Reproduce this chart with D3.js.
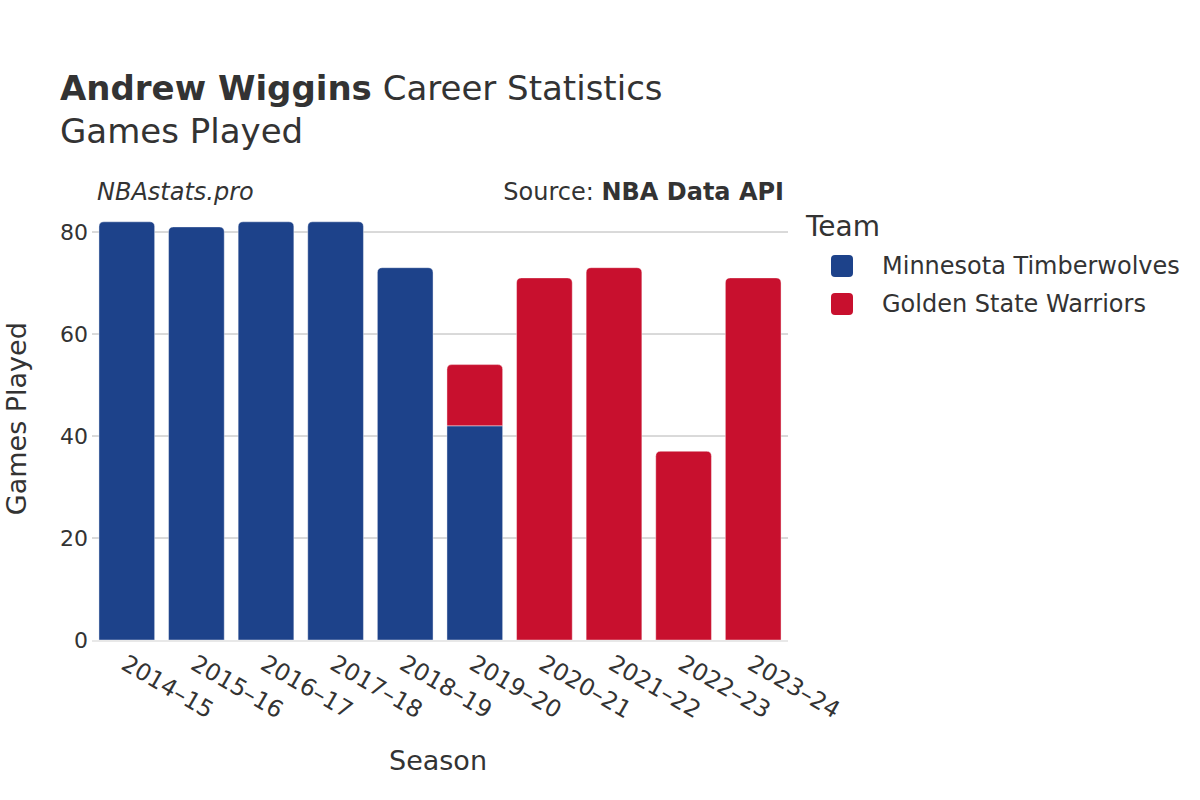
<!DOCTYPE html>
<html><head><meta charset="utf-8">
<script src="https://cdn.jsdelivr.net/npm/d3@7"></script>
<style>body{margin:0;background:#fff;} text{font-family:"DejaVu Sans",sans-serif;fill:#333;}</style>
</head><body><svg id="c" width="1200" height="800"></svg>
<script>
const seasons = ["2014–15","2015–16","2016–17","2017–18","2018–19","2019–20","2020–21","2021–22","2022–23","2023–24"];
const teams = ["Minnesota Timberwolves","Golden State Warriors"];
const teamColors = ["#1d428a","#c8102e"];
const minGames = [82,81,82,82,73,42,0,0,0,0];
const gswGames = [0,0,0,0,0,12,71,73,37,71];
const yTicks = [0,20,40,60,80];

const svg = d3.select("#c");
const m = {l:92, r:412, t:201.4, b:160};
const W = 1200, H = 800;
const x = d3.scaleBand().domain(seasons).range([m.l, W-m.r]).paddingInner(0.2).paddingOuter(0.1);
const y = d3.scaleLinear().domain([0, 86]).range([H-m.b, m.t]);

// gridlines
svg.append("g").selectAll("line").data(yTicks.filter(d=>d>0)).join("line")
  .attr("x1", m.l).attr("x2", W-m.r).attr("y1", d=>y(d)).attr("y2", d=>y(d))
  .attr("stroke","#b4b4b4").attr("stroke-width",1);

// y tick labels
svg.append("g").selectAll("text").data(yTicks).join("text")
  .attr("x", m.l-4).attr("y", d=>y(d)).attr("dy","0.35em").attr("text-anchor","end")
  .style("font-size","22px").text(d=>d);

// bars
const series = [minGames, gswGames];
const r = 5;
function barPath(x0, w, y0, y1, round){
  const h = y0 - y1;
  const rr = round ? Math.min(r, h/2, w/2) : 0;
  return `M${x0},${y0}L${x0},${y1+rr}Q${x0},${y1} ${x0+rr},${y1}L${x0+w-rr},${y1}Q${x0+w},${y1} ${x0+w},${y1+rr}L${x0+w},${y0}Z`;
}
seasons.forEach((s,i)=>{
  let base = 0;
  series.forEach((vals,k)=>{
    const v = vals[i];
    if(v>0){
      const top = base+v;
      const isTop = series.slice(k+1).every(sv=>sv[i]===0);
      svg.append("path")
        .attr("d", barPath(x(s), x.bandwidth(), y(base), y(top), isTop))
        .attr("fill", teamColors[k]).attr("stroke", "rgba(255,255,255,0.5)").attr("stroke-width",0.8);
      base = top;
    }
  });
});

// zero line
svg.append("line").attr("x1", m.l).attr("x2", W-m.r).attr("y1", y(0)+1).attr("y2", y(0)+1)
  .attr("stroke","#e8e8e8").attr("stroke-width",2);

// x tick labels
svg.append("g").selectAll("text").data(seasons).join("text")
  .attr("transform", d=>`translate(${x(d)+x.bandwidth()/2-3},${y(0)+21}) rotate(30)`)
  .attr("text-anchor","start").attr("dy","0.35em")
  .style("font-size","23.5px").text(d=>d);

// axis titles
svg.append("text").attr("x", (m.l+W-m.r)/2 - 2).attr("y", 770).attr("text-anchor","middle")
  .style("font-size","27px").text("Season");
svg.append("text").attr("transform",`translate(26,${(m.t+H-m.b)/2 - 2}) rotate(-90)`).attr("text-anchor","middle")
  .style("font-size","27px").text("Games Played");

// title
const t = svg.append("text").attr("x",60).attr("y",100).style("font-size","34px");
t.append("tspan").style("font-weight","bold").text("Andrew Wiggins");
t.append("tspan").text(" Career Statistics");
svg.append("text").attr("x",60).attr("y",143).style("font-size","34px").text("Games Played");

svg.append("text").attr("x",97).attr("y",200).style("font-size","24px").style("font-style","italic").text("NBAstats.pro");
const src = svg.append("text").attr("x",784).attr("y",200).attr("text-anchor","end").style("font-size","24px");
src.append("tspan").text("Source: ");
src.append("tspan").style("font-weight","bold").text("NBA Data API");

// legend
svg.append("text").attr("x",806).attr("y",236).style("font-size","28px").text("Team");
const lg = svg.append("g").selectAll("g").data(teams).join("g")
  .attr("transform",(d,i)=>`translate(831,${255+i*38})`);
lg.append("rect").attr("width",22).attr("height",22).attr("rx",4).attr("fill",(d,i)=>teamColors[i]);
lg.append("text").attr("x",51).attr("y",11).attr("dy","0.35em").style("font-size","24px").text(d=>d);
</script></body></html>
